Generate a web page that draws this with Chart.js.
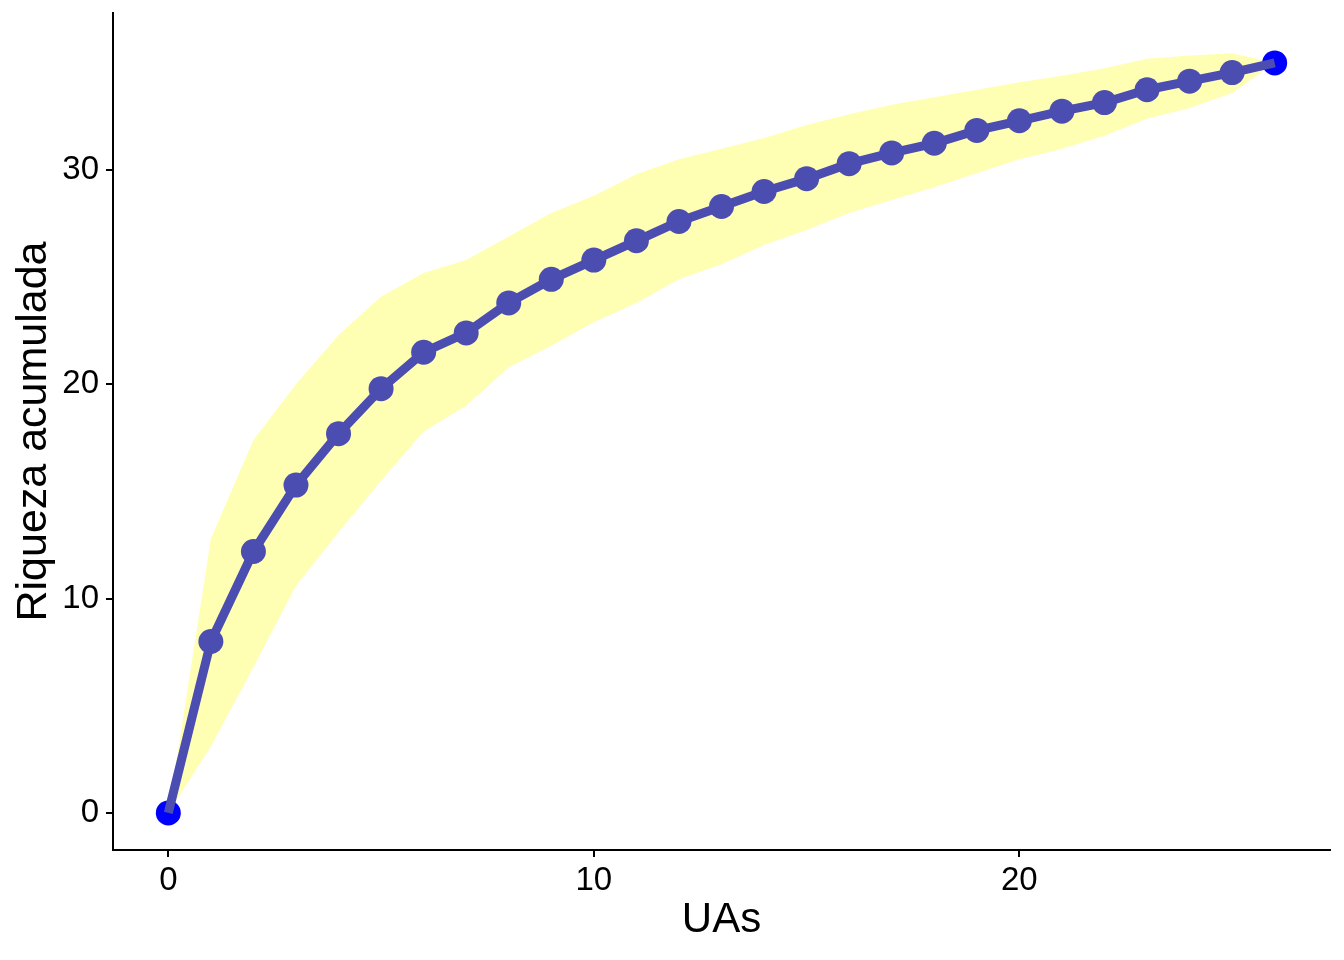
<!DOCTYPE html>
<html>
<head>
<meta charset="utf-8">
<script src="https://cdn.jsdelivr.net/npm/chart.js@4.4.1/dist/chart.umd.min.js"></script>
<style>
  html, body { margin: 0; padding: 0; background: #fff; }
  #wrap { width: 1344px; height: 960px; }
</style>
</head>
<body>
<div id="wrap"><canvas id="curva" width="1344" height="960"></canvas></div>
<script>
// curva de acumulacion de especies
var uas = [0, 1, 2, 3, 4, 5, 6, 7, 8, 9, 10, 11, 12, 13, 14, 15, 16, 17, 18, 19, 20, 21, 22, 23, 24, 25, 26];
var riqueza = [0, 8.0, 12.2, 15.3, 17.7, 19.8, 21.5, 22.4, 23.8, 24.9, 25.8, 26.7, 27.6, 28.3, 29.0, 29.6, 30.3, 30.8, 31.25, 31.85, 32.3, 32.75, 33.15, 33.75, 34.15, 34.55, 35.0];
var inferior = [0, 3.1, 6.8, 10.6, 13.1, 15.5, 17.8, 19.0, 20.8, 21.8, 22.9, 23.8, 24.9, 25.6, 26.5, 27.2, 28.0, 28.6, 29.2, 29.85, 30.5, 31.0, 31.6, 32.4, 32.9, 33.6, 35.0];
var superior = [0, 12.8, 17.4, 20.0, 22.3, 24.1, 25.2, 25.8, 26.9, 28.0, 28.8, 29.8, 30.5, 31.0, 31.5, 32.1, 32.6, 33.05, 33.4, 33.75, 34.1, 34.4, 34.75, 35.2, 35.35, 35.45, 35.0];
var xTicks = [0, 10, 20];
var yTicks = [0, 10, 20, 30];

function pts(ys) {
  return uas.map(function (x, i) { return {x: x, y: ys[i]}; });
}
var extremos = [
  {x: uas[0], y: riqueza[0]},
  {x: uas[uas.length - 1], y: riqueza[riqueza.length - 1]}
];

var fuente = "'Liberation Sans', Arial, sans-serif";

new Chart(document.getElementById("curva").getContext("2d"), {
  type: 'line',
  data: {
    datasets: [{
      label: 'inferior',
      data: pts(inferior),
      borderWidth: 0,
      pointRadius: 0,
      fill: false,
      order: 5
    }, {
      label: 'superior',
      data: pts(superior),
      borderWidth: 0,
      pointRadius: 0,
      backgroundColor: 'rgb(255, 255, 180)',
      fill: 0,
      order: 4
    }, {
      label: 'extremos',
      data: extremos,
      showLine: false,
      pointRadius: 12.5,
      pointBackgroundColor: '#0000ff',
      pointBorderWidth: 0,
      order: 2
    }, {
      label: 'riqueza',
      data: pts(riqueza),
      borderColor: '#4b4db0',
      borderWidth: 9,
      pointRadius: riqueza.map(function (v, i) { return (i === 0 || i === riqueza.length - 1) ? 0 : 12.5; }),
      pointBackgroundColor: '#4b4db0',
      pointBorderWidth: 0,
      fill: false,
      tension: 0,
      order: 1
    }]
  },
  options: {
    responsive: false,
    devicePixelRatio: 1,
    animation: false,
    layout: { padding: { top: 13, right: 14, left: 0, bottom: 0 } },
    plugins: { legend: { display: false }, tooltip: { enabled: false } },
    scales: {
      x: {
        type: 'linear',
        min: -1.3,
        max: 27.3,
        afterBuildTicks: function (s) { s.ticks = xTicks.map(function (v) { return {value: v}; }); },
        afterFit: function (s) { s.height = 110; s.paddingLeft = 0; s.paddingRight = 0; },
        grid: { drawOnChartArea: false, drawTicks: true, tickLength: 7, color: '#000', lineWidth: 2 },
        border: { display: true, color: '#000', width: 2 },
        ticks: { color: '#000', padding: 4, maxRotation: 0, font: { family: fuente, size: 33 } },
        title: { display: true, text: 'UAs', color: '#000', font: { family: fuente, size: 42 }, padding: { top: 0, bottom: 14 } }
      },
      y: {
        type: 'linear',
        min: -1.73,
        max: 37.33,
        afterBuildTicks: function (s) { s.ticks = yTicks.map(function (v) { return {value: v}; }); },
        afterFit: function (s) { s.width = 113; s.paddingTop = 0; s.paddingBottom = 0; },
        grid: { drawOnChartArea: false, drawTicks: true, tickLength: 7, color: '#000', lineWidth: 2 },
        border: { display: true, color: '#000', width: 2 },
        ticks: { color: '#000', padding: 7, font: { family: fuente, size: 33 } },
        title: { display: true, text: 'Riqueza acumulada', color: '#000', font: { family: fuente, size: 43 }, padding: { top: 8, bottom: 0 } }
      }
    }
  }
});
</script>
</body>
</html>
